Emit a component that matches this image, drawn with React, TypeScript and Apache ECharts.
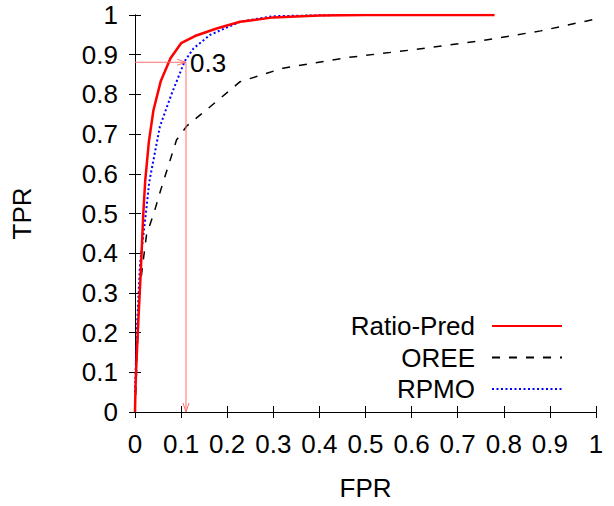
import React, { useEffect, useRef } from "react";
import * as echarts from "echarts";

const ratioPred: [number, number][] = [
  [0, 0], [0.001, 0.06], [0.003, 0.12], [0.006, 0.2], [0.009, 0.27], [0.012, 0.34],
  [0.015, 0.42], [0.018, 0.5], [0.022, 0.58], [0.03, 0.68], [0.04, 0.76],
  [0.056, 0.834], [0.077, 0.891], [0.1, 0.929], [0.13, 0.947], [0.177, 0.966],
  [0.228, 0.983], [0.3, 0.994], [0.4, 0.999], [0.5, 1], [0.78, 1],
];

const oree: [number, number][] = [
  [0, 0], [0.002, 0.06], [0.004, 0.131], [0.006, 0.194], [0.007, 0.253],
  [0.011, 0.316], [0.018, 0.383], [0.025, 0.446], [0.042, 0.505], [0.056, 0.56],
  [0.09, 0.685], [0.112, 0.72], [0.163, 0.769], [0.228, 0.832], [0.321, 0.866],
  [0.462, 0.893], [0.6, 0.912], [0.75, 0.935], [0.88, 0.96], [1, 0.99],
];

const rpmo: [number, number][] = [
  [0, 0.05], [0.004, 0.207], [0.011, 0.375], [0.022, 0.484], [0.031, 0.58],
  [0.054, 0.719], [0.08, 0.803], [0.108, 0.884], [0.127, 0.916], [0.163, 0.95],
  [0.228, 0.983], [0.3, 0.997], [0.44, 1],
];

const annotPoint: [number, number] = [0.1106, 0.881];
const annotLabel = "0.3";

const FONT = "Liberation Sans, Arial, Helvetica, sans-serif";
const FS = 26;

export default function App() {
  const ref = useRef<HTMLDivElement>(null);
  useEffect(() => {
    if (!ref.current) return;
    document.body.style.margin = "0";
    const chart = echarts.init(ref.current, null, { renderer: "svg" });
    const axisLine = { show: true, lineStyle: { color: "#000", width: 1 } };
    const tickInside = { show: true, inside: true, length: 6, lineStyle: { color: "#000", width: 1 } };
    chart.setOption({
      animation: false,
      backgroundColor: "#fff",
      textStyle: { fontFamily: FONT },
      grid: { left: 135, right: 18, top: 15, bottom: 94 },
      legend: {
        orient: "vertical",
        align: "right",
        right: 51,
        top: 313,
        padding: 0,
        itemWidth: 70,
        itemHeight: 10,
        itemGap: 5.5,
        itemStyle: { opacity: 0 },
        data: ["Ratio-Pred", "OREE", "RPMO"],
        textStyle: { fontSize: FS, color: "#000", fontFamily: FONT, padding: [0, 12, 0, 0] },
      },
      xAxis: [
        {
          type: "value", min: 0, max: 1, interval: 0.1,
          name: "FPR", nameLocation: "middle", nameGap: 63,
          nameTextStyle: { fontSize: FS, color: "#000" },
          axisLine, axisTick: tickInside, splitLine: { show: false },
          axisLabel: { fontSize: FS, color: "#000", margin: 19 },
        },
        {
          type: "value", min: 0, max: 1, interval: 0.1, position: "top",
          axisLine, axisTick: tickInside, splitLine: { show: false },
          axisLabel: { show: false },
        },
      ],
      yAxis: [
        {
          type: "value", min: 0, max: 1, interval: 0.1,
          name: "TPR", nameLocation: "middle", nameGap: 100,
          nameTextStyle: { fontSize: FS, color: "#000" },
          axisLine, axisTick: tickInside, splitLine: { show: false },
          axisLabel: { fontSize: FS, color: "#000", margin: 17 },
        },
        {
          type: "value", min: 0, max: 1, interval: 0.1, position: "right",
          axisLine, axisTick: tickInside, splitLine: { show: false },
          axisLabel: { show: false },
        },
      ],
      series: [
        {
          name: "OREE", type: "line", data: oree, symbol: "none",
          lineStyle: { color: "#000", width: 1.5, type: [8, 9] },
          itemStyle: { color: "#000" },
        },
        {
          name: "RPMO", type: "line", data: rpmo, symbol: "none",
          lineStyle: { color: "#0000ff", width: 2, type: [2, 2.5] },
          itemStyle: { color: "#0000ff" },
        },
        {
          name: "Ratio-Pred", type: "line", data: ratioPred, symbol: "none",
          lineStyle: { color: "#ff0000", width: 2.5 },
          itemStyle: { color: "#ff0000" },
          z: 3,
        },
        {
          name: "annotH", type: "line", symbol: "none",
          data: [[0, annotPoint[1]], annotPoint],
          lineStyle: { color: "#ff7070", width: 1 }, z: 4,
        },
        {
          name: "annotV", type: "line", symbol: "none",
          data: [annotPoint, [annotPoint[0], 0]],
          lineStyle: { color: "#ff7070", width: 1 }, z: 4,
        },
      ],
    });
    const tip = chart.convertToPixel({ gridIndex: 0 }, annotPoint) as number[];
    const bottom = chart.convertToPixel({ gridIndex: 0 }, [annotPoint[0], 0]) as number[];
    const arrowStyle = { stroke: "#ff7070", lineWidth: 1, fill: "none" };
    chart.setOption({
      graphic: [
        {
          type: "polyline", z: 10,
          shape: { points: [[tip[0] - 9, tip[1] - 3], [tip[0], tip[1]], [tip[0] - 9, tip[1] + 3]] },
          style: arrowStyle,
        },
        {
          type: "polyline", z: 10,
          shape: { points: [[bottom[0] - 3, bottom[1] - 9], [bottom[0], bottom[1]], [bottom[0] + 3, bottom[1] - 9]] },
          style: arrowStyle,
        },
        {
          type: "text", z: 10, x: tip[0] + 4, y: tip[1] + 1,
          style: { text: annotLabel, fontSize: FS, fill: "#000", fontFamily: FONT, verticalAlign: "middle", align: "left" },
        },
      ],
    });
    return () => chart.dispose();
  }, []);
  return <div ref={ref} style={{ width: 614, height: 506 }} />;
}
